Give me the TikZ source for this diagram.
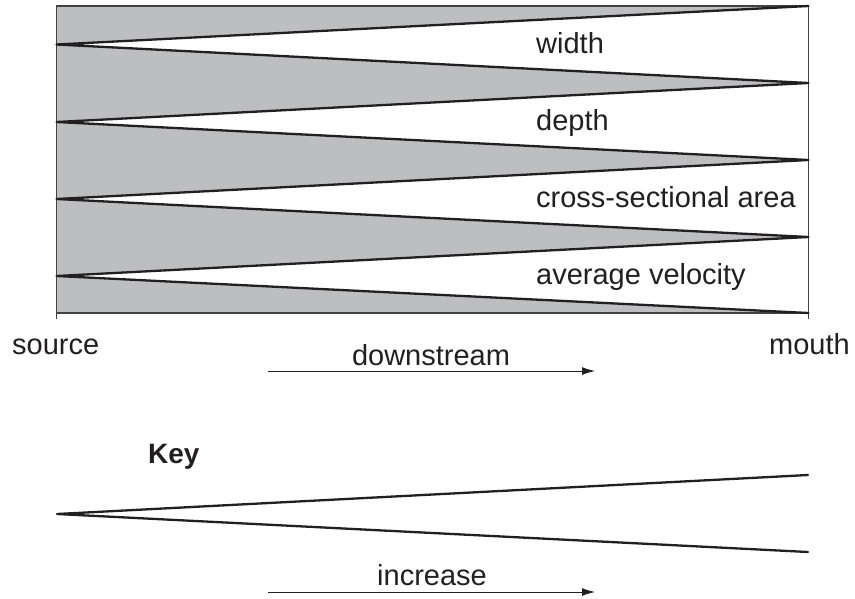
\documentclass[tikz,border=0pt]{standalone}
\usepackage{fontspec}
\setmainfont{Liberation Sans}
\usetikzlibrary{arrows.meta}
\definecolor{ink}{RGB}{35,31,32}
\definecolor{bandgray}{RGB}{189,190,192}
\tikzset{
  lbl/.style={inner sep=0pt, anchor=base west, text=ink, font=\fontsize{29}{34}\selectfont},
  ctr/.style={inner sep=0pt, anchor=base, text=ink, font=\fontsize{29}{34}\selectfont},
  keylbl/.style={inner sep=0pt, anchor=base west, text=ink, font=\fontsize{28}{33}\selectfont\bfseries},
  wedge/.style={draw=ink, line width=2.3pt, line join=round, line cap=round},
  frame/.style={draw=ink!85, line width=1.2pt},
  dirarrow/.style={draw=ink, line width=1pt, -{Latex[length=13pt,width=8pt]}}
}
\begin{document}
\begin{tikzpicture}[x=1pt,y=-1pt]
\useasboundingbox (0,0) rectangle (855,598);
% coordinates of the zigzag
\coordinate (r0) at (808.5,6);
\coordinate (r1) at (808.5,83);
\coordinate (r2) at (808.5,160);
\coordinate (r3) at (808.5,237);
\coordinate (r4) at (808.5,313);
\coordinate (l1) at (56.5,44.5);
\coordinate (l2) at (56.5,122);
\coordinate (l3) at (56.5,199);
\coordinate (l4) at (56.5,276);
\coordinate (tl) at (56.5,6);
\coordinate (bl) at (56.5,313);
% gray background
\fill[fill=bandgray] (tl) rectangle (r4);
% white wedges
\fill[fill=white] (l1) -- (r0) -- (r1) -- cycle;
\fill[fill=white] (l2) -- (r1) -- (r2) -- cycle;
\fill[fill=white] (l3) -- (r2) -- (r3) -- cycle;
\fill[fill=white] (l4) -- (r3) -- (r4) -- cycle;
% frame
\coordinate (bl2) at (56.5,319);
\coordinate (br2) at (808.5,319);
\draw[frame] (bl) -- (tl) -- (r0) -- (r4) -- (bl);
\draw[frame] (tl) -- (bl2);
\draw[frame] (r0) -- (br2);
% zigzag lines
\draw[wedge] (r0) -- (l1) -- (r1) -- (l2) -- (r2) -- (l3) -- (r3) -- (l4) -- (r4);
% labels
\node[lbl] (w) at (536,53) {width};
\node[lbl] (d) at (536,130) {depth};
\node[lbl] (c) at (536,207) {cross-sectional area};
\node[lbl] (v) at (536,284) {average velocity};
\node[lbl] (src) at (12,354) {source};
\node[lbl] (mth) at (769,354) {mouth};
% downstream arrow
\coordinate (da) at (268,371);
\coordinate (db) at (595,371);
\draw[dirarrow] (da) -- (db);
\node[ctr] (ds) at (431,365) {downstream};
% key
\node[keylbl] (key) at (148,463) {Key};
\coordinate (kv) at (57,514);
\coordinate (ku) at (808,475);
\coordinate (kd) at (808,552);
\draw[wedge] (ku) -- (kv) -- (kd);
\coordinate (ia) at (268,592);
\coordinate (ib) at (595,592);
\draw[dirarrow] (ia) -- (ib);
\node[ctr] (inc) at (432,585) {increase};
\end{tikzpicture}
\end{document}
